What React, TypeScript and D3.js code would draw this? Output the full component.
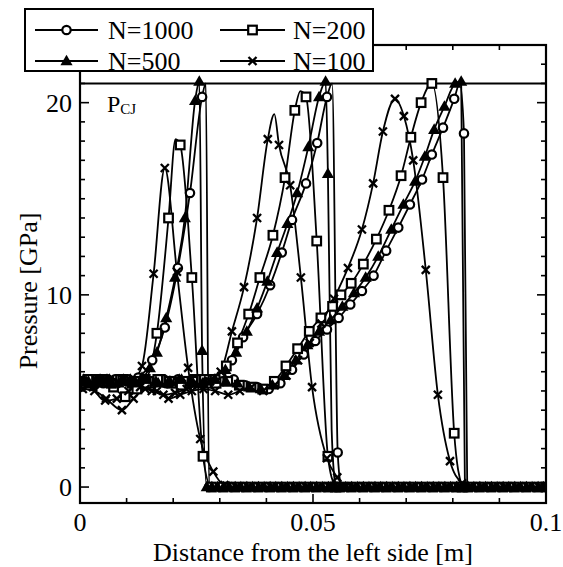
import React, { useEffect, useRef } from 'react';
import * as d3 from 'd3';

type Pt = [number, number, number?]; // [x (m), pressure (GPa), 0 = no marker]

// N=1000 (open circles)
const n1000t1: Pt[] = [
  [0.0000, 5.5], [0.0025, 5.6], [0.0050, 5.4], [0.0075, 5.6], [0.0100, 5.5], [0.0125, 5.7],
  [0.0155, 6.6], [0.0182, 8.3], [0.0210, 11.4], [0.0236, 15.3], [0.0262, 20.3], [0.0270, 21.0, 0],
  [0.0277, 0.0],
];
const n1000t2: Pt[] = [
  [0.0010, 5.5], [0.0035, 5.4], [0.0060, 5.6], [0.0085, 5.5], [0.0110, 5.4], [0.0135, 5.6],
  [0.0160, 5.5], [0.0185, 5.4], [0.0210, 5.6], [0.0235, 5.5], [0.0260, 5.4], [0.0280, 5.5],
  [0.0303, 5.8], [0.0326, 6.6], [0.0350, 7.8], [0.0380, 9.0], [0.0408, 10.5], [0.0433, 12.2],
  [0.0455, 13.9], [0.0485, 15.8], [0.0509, 17.9], [0.0530, 20.3], [0.0541, 21.0, 0], [0.0553, 1.8],
  [0.0560, 0.0],
];
const n1000t3: Pt[] = [
  [0.0005, 5.4], [0.0030, 5.6], [0.0055, 5.5], [0.0080, 5.4], [0.0105, 5.6], [0.0130, 5.5],
  [0.0155, 5.4], [0.0180, 5.6], [0.0205, 5.5], [0.0230, 5.4], [0.0255, 5.5], [0.0280, 5.6],
  [0.0305, 5.5], [0.0330, 5.6], [0.0355, 5.3], [0.0380, 5.2], [0.0405, 5.1], [0.0430, 5.4],
  [0.0455, 6.1], [0.0480, 6.9], [0.0505, 7.6], [0.0530, 8.2], [0.0555, 8.8], [0.0580, 9.5],
  [0.0605, 10.2], [0.0630, 11.0], [0.0657, 12.3], [0.0683, 13.5], [0.0708, 14.7], [0.0734, 16.0],
  [0.0755, 17.3], [0.0779, 18.7], [0.0803, 20.2], [0.0815, 21.0, 0], [0.0824, 18.4], [0.0831, 0.0],
];
const tail1000 = [
  0.0300, 0.0325, 0.0350, 0.0375, 0.0400, 0.0425, 0.0450, 0.0475, 0.0500, 0.0525, 0.0550, 0.0575,
  0.0600, 0.0625, 0.0650, 0.0675, 0.0700, 0.0725, 0.0750, 0.0775, 0.0800, 0.0825, 0.0850, 0.0875,
  0.0900, 0.0925, 0.0950, 0.0975, 0.1000,
];

// N=500 (filled triangles)
const n500t1: Pt[] = [
  [0.0008, 5.6], [0.0033, 5.5], [0.0058, 5.6], [0.0083, 5.4], [0.0108, 5.6], [0.0133, 5.7],
  [0.0150, 6.2], [0.0165, 7.0], [0.0185, 8.8], [0.0204, 10.9], [0.0225, 14.0], [0.0247, 20.1],
  [0.0256, 21.1], [0.0262, 7.1], [0.0272, 0.0],
];
const n500t2: Pt[] = [
  [0.0018, 5.5], [0.0043, 5.6], [0.0068, 5.4], [0.0093, 5.6], [0.0118, 5.5], [0.0143, 5.6],
  [0.0168, 5.4], [0.0193, 5.5], [0.0218, 5.6], [0.0243, 5.4], [0.0268, 5.5], [0.0290, 5.6],
  [0.0312, 6.1], [0.0335, 7.0], [0.0358, 8.1], [0.0380, 9.3], [0.0402, 10.7], [0.0423, 12.2],
  [0.0445, 13.7], [0.0466, 15.3], [0.0490, 17.7], [0.0513, 20.3], [0.0527, 21.1], [0.0532, 16.3],
  [0.0540, 3.0, 0], [0.0548, 0.0],
];
const n500t3: Pt[] = [
  [0.0013, 5.5], [0.0038, 5.4], [0.0063, 5.6], [0.0088, 5.5], [0.0113, 5.4], [0.0138, 5.6],
  [0.0163, 5.5], [0.0188, 5.4], [0.0213, 5.6], [0.0238, 5.5], [0.0263, 5.4], [0.0288, 5.6],
  [0.0313, 5.5], [0.0338, 5.4], [0.0363, 5.2], [0.0388, 5.1], [0.0413, 5.3], [0.0438, 5.8],
  [0.0463, 6.6], [0.0488, 7.4], [0.0513, 8.1], [0.0538, 8.7], [0.0563, 9.4], [0.0588, 10.1],
  [0.0613, 10.9], [0.0640, 12.0], [0.0668, 13.4], [0.0694, 14.7], [0.0719, 15.9], [0.0740, 17.2],
  [0.0760, 18.6], [0.0782, 19.8], [0.0805, 21.0], [0.0818, 21.1], [0.0826, 0.0],
];
const tail500 = [
  0.0283, 0.0295, 0.0308, 0.0320, 0.0333, 0.0345, 0.0358, 0.0370, 0.0383, 0.0395, 0.0408, 0.0420,
  0.0433, 0.0445, 0.0458, 0.0470, 0.0483, 0.0495, 0.0508, 0.0520, 0.0533, 0.0545, 0.0558, 0.0570,
  0.0583, 0.0595, 0.0608, 0.0620, 0.0633, 0.0645, 0.0658, 0.0670, 0.0683, 0.0695, 0.0708, 0.0720,
  0.0733, 0.0745, 0.0758, 0.0770, 0.0783, 0.0795, 0.0808, 0.0820, 0.0833, 0.0845, 0.0858, 0.0870,
  0.0883, 0.0895, 0.0908, 0.0920, 0.0933, 0.0945, 0.0958, 0.0970, 0.0983, 0.0995,
];

// N=200 (open squares)
const n200t1: Pt[] = [
  [0.0012, 5.5], [0.0037, 5.6], [0.0062, 5.5], [0.0087, 5.6], [0.0112, 5.4], [0.0140, 5.6],
  [0.0165, 8.0], [0.0190, 14.0], [0.0205, 18.1, 0], [0.0215, 17.8], [0.0240, 10.9], [0.0264, 1.6],
  [0.0282, 0.0],
];
const n200t2: Pt[] = [
  [0.0022, 5.4], [0.0047, 5.6], [0.0072, 5.2], [0.0097, 4.7], [0.0122, 5.1], [0.0147, 5.5],
  [0.0172, 5.6], [0.0197, 5.4], [0.0222, 5.5], [0.0247, 5.6], [0.0272, 5.4], [0.0290, 5.6],
  [0.0314, 6.3], [0.0338, 7.5], [0.0362, 9.0], [0.0386, 10.9], [0.0414, 13.1], [0.0440, 16.1],
  [0.0461, 19.6], [0.0473, 20.6, 0], [0.0485, 20.3], [0.0508, 12.8], [0.0532, 1.6], [0.0548, 0.0],
];
const n200t3: Pt[] = [
  [0.0017, 5.6], [0.0042, 5.5], [0.0067, 5.4], [0.0092, 5.6], [0.0117, 5.5], [0.0142, 5.4],
  [0.0167, 5.6], [0.0192, 5.5], [0.0217, 5.3], [0.0242, 5.5], [0.0267, 5.6], [0.0292, 5.4],
  [0.0317, 5.5], [0.0342, 5.3], [0.0367, 5.2], [0.0392, 5.1], [0.0417, 5.5], [0.0442, 6.3],
  [0.0467, 7.2], [0.0492, 8.1], [0.0517, 8.8], [0.0542, 9.4], [0.0560, 10.0], [0.0582, 10.6],
  [0.0608, 11.6], [0.0636, 12.9], [0.0663, 14.4], [0.0689, 16.2], [0.0710, 18.2], [0.0732, 20.0],
  [0.0755, 21.0], [0.0779, 16.1], [0.0803, 2.8], [0.0820, 0.0],
];
const tail200 = [
  0.0307, 0.0332, 0.0357, 0.0382, 0.0407, 0.0432, 0.0457, 0.0482, 0.0507, 0.0532, 0.0557, 0.0582,
  0.0607, 0.0632, 0.0657, 0.0682, 0.0707, 0.0732, 0.0757, 0.0782, 0.0807, 0.0832, 0.0857, 0.0882,
  0.0907, 0.0932, 0.0957, 0.0982, 0.1000,
];

// N=100 (crosses)
const n100t1: Pt[] = [
  [0.0018, 5.3], [0.0043, 5.5], [0.0068, 5.4], [0.0093, 5.6], [0.0110, 5.5], [0.0133, 6.3],
  [0.0158, 11.1], [0.0182, 16.6], [0.0208, 11.2], [0.0232, 6.2], [0.0258, 2.5], [0.0286, 0.8],
  [0.0310, 0.1],
];
const n100t2: Pt[] = [
  [0.0028, 5.2], [0.0054, 4.5], [0.0079, 4.6], [0.0104, 5.0], [0.0129, 5.2], [0.0154, 5.0],
  [0.0179, 4.8], [0.0204, 4.9], [0.0229, 5.1], [0.0254, 5.3], [0.0279, 5.5], [0.0302, 6.0],
  [0.0326, 8.1], [0.0352, 10.4], [0.0380, 14.0], [0.0403, 18.1], [0.0417, 19.4, 0], [0.0427, 17.8],
  [0.0451, 15.7], [0.0474, 10.9], [0.0498, 5.2], [0.0530, 1.5], [0.0552, 0.5], [0.0570, 0.0],
];
const n100t3: Pt[] = [
  [0.0006, 5.1], [0.0031, 5.0], [0.0056, 4.6], [0.0090, 4.0], [0.0115, 4.6], [0.0140, 5.1],
  [0.0165, 5.0], [0.0190, 4.6], [0.0215, 4.8], [0.0240, 5.0], [0.0265, 5.1], [0.0290, 5.0],
  [0.0318, 4.8], [0.0343, 5.0], [0.0368, 5.2], [0.0393, 5.0], [0.0418, 5.3], [0.0443, 5.8],
  [0.0468, 6.6], [0.0493, 7.5], [0.0518, 8.5], [0.0545, 9.8], [0.0575, 11.4], [0.0605, 13.4],
  [0.0629, 15.8], [0.0650, 18.5], [0.0676, 20.2], [0.0695, 19.3], [0.0715, 17.0], [0.0742, 11.3],
  [0.0768, 4.8], [0.0794, 1.35], [0.0820, 0.2], [0.0835, 0.0],
];
const tail100 = [
  0.0335, 0.0360, 0.0385, 0.0410, 0.0435, 0.0460, 0.0485, 0.0510, 0.0535, 0.0560, 0.0585, 0.0610,
  0.0635, 0.0660, 0.0685, 0.0710, 0.0735, 0.0760, 0.0785, 0.0810, 0.0835, 0.0860, 0.0885, 0.0910,
  0.0935, 0.0960, 0.0985, 0.1000,
];

const seriesNames = ['N=1000', 'N=200', 'N=500', 'N=100'];
const seriesMarkers = ['circle', 'square', 'triangle', 'cross'];

const xMajor = [0, 0.05, 0.1];
const xLabels = ['0', '0.05', '0.1'];
const xMinor = [0.01, 0.02, 0.03, 0.04, 0.06, 0.07, 0.08, 0.09];
const yMajor = [0, 10, 20];
const yLabels = ['0', '10', '20'];
const yMinor = [1, 2, 3, 4, 5, 6, 7, 8, 9, 11, 12, 13, 14, 15, 16, 17, 18, 19, 21, 22];
const pCJ = 21;

const FONT = 'Liberation Serif';

function drawMarker(g: any, kind: string, cx: number, cy: number) {
  if (kind === 'circle') {
    g.append('circle').attr('cx', cx).attr('cy', cy).attr('r', 4.2)
      .attr('fill', '#fff').attr('stroke', '#000').attr('stroke-width', 2.2);
  } else if (kind === 'square') {
    g.append('rect').attr('x', cx - 4.3).attr('y', cy - 4.3).attr('width', 8.6).attr('height', 8.6)
      .attr('fill', '#fff').attr('stroke', '#000').attr('stroke-width', 2.2);
  } else if (kind === 'triangle') {
    g.append('path').attr('d', d3.symbol(d3.symbolTriangle, 64)())
      .attr('transform', `translate(${cx},${cy + 0.8})`).attr('fill', '#000');
  } else {
    g.append('path').attr('d', `M${cx - 4},${cy - 4}L${cx + 4},${cy + 4}M${cx - 4},${cy + 4}L${cx + 4},${cy - 4}`)
      .attr('stroke', '#000').attr('stroke-width', 2.3).attr('fill', 'none');
  }
}

function addText(g: any, x: number, y: number, s: string, anchor = 'start', size = 26) {
  return g.append('text').attr('x', x).attr('y', y).attr('text-anchor', anchor)
    .style('font-family', FONT).style('font-size', `${size}px`).attr('fill', '#000').text(s);
}

export default function App() {
  const ref = useRef<SVGSVGElement>(null);

  useEffect(() => {
    const svg = d3.select(ref.current);
    svg.selectAll('*').remove();

    const x = d3.scaleLinear().domain([0, 0.1]).range([80, 546]);
    const y = d3.scaleLinear().domain([-0.83, 23]).range([503, 45]);
    const [x0, x1] = x.range();
    const [yb, yt] = y.range();

    svg.append('defs').append('clipPath').attr('id', 'plotclip')
      .append('rect').attr('x', x0).attr('y', yt).attr('width', x1 - x0).attr('height', yb - yt);

    const plot = svg.append('g').attr('clip-path', 'url(#plotclip)');

    const withTail = (pts: Pt[], tail: number[]): Pt[] => pts.concat(tail.map((t) => [t, 0] as Pt));
    const series: Pt[][][] = [
      [withTail(n1000t1, tail1000), n1000t2, n1000t3],
      [withTail(n200t1, tail200), n200t2, n200t3],
      [withTail(n500t1, tail500), n500t2, n500t3],
      [withTail(n100t1, tail100), n100t2, n100t3],
    ];

    const line = d3.line<Pt>().x((d) => x(d[0])).y((d) => y(d[1])).curve(d3.curveMonotoneX);

    // P_CJ level
    plot.append('line').attr('x1', x0).attr('x2', x1).attr('y1', y(pCJ)).attr('y2', y(pCJ))
      .attr('stroke', '#000').attr('stroke-width', 2);

    series.forEach((profiles) => {
      profiles.forEach((pts) => {
        plot.append('path').attr('d', line(pts)).attr('fill', 'none')
          .attr('stroke', '#000').attr('stroke-width', 1.8);
      });
    });
    series.forEach((profiles, si) => {
      profiles.forEach((pts) => {
        pts.filter((d) => d[2] !== 0).forEach((d) => drawMarker(plot, seriesMarkers[si], x(d[0]), y(d[1])));
      });
    });

    // ticks (inward on all four sides)
    const axes = svg.append('g').attr('stroke', '#000').attr('stroke-width', 1.6);
    const xt = [...xMajor.map((v) => [v, 9]), ...xMinor.map((v) => [v, 5])];
    xt.forEach(([v, len]) => {
      axes.append('line').attr('x1', x(v)).attr('x2', x(v)).attr('y1', yb).attr('y2', yb - len);
      axes.append('line').attr('x1', x(v)).attr('x2', x(v)).attr('y1', yt).attr('y2', yt + len);
    });
    const yt2 = [...yMajor.map((v) => [v, 9]), ...yMinor.map((v) => [v, 5])];
    yt2.forEach(([v, len]) => {
      axes.append('line').attr('x1', x0).attr('x2', x0 + len).attr('y1', y(v)).attr('y2', y(v));
      axes.append('line').attr('x1', x1).attr('x2', x1 - len).attr('y1', y(v)).attr('y2', y(v));
    });

    svg.append('rect').attr('x', x0).attr('y', yt).attr('width', x1 - x0).attr('height', yb - yt)
      .attr('fill', 'none').attr('stroke', '#000').attr('stroke-width', 2.2);

    // tick labels and titles
    const txt = svg.append('g');
    xMajor.forEach((v, i) => addText(txt, x(v), 531, xLabels[i], 'middle'));
    yMajor.forEach((v, i) => addText(txt, 72, y(v) + 9, yLabels[i], 'end'));
    addText(txt, (x0 + x1) / 2, 561, 'Distance from the left side [m]', 'middle');
    addText(txt, 0, 0, 'Pressure [GPa]', 'middle').attr('transform', `translate(37,${y(10.2)}) rotate(-90)`);

    // P_CJ label
    const pl = addText(txt, 107, 112, '', 'start', 24);
    pl.append('tspan').text('P');
    pl.append('tspan').attr('dy', 2).style('font-size', '15px').text('CJ');

    // legend
    const lg = svg.append('g');
    lg.append('rect').attr('x', 25).attr('y', 9).attr('width', 348).attr('height', 62)
      .attr('fill', '#fff').attr('stroke', '#000').attr('stroke-width', 2);
    const cols = [[35, 98, 108], [220, 285, 293]];
    const rows = [30, 61];
    seriesNames.forEach((name, i) => {
      const [lx0, lx1, tx] = cols[i % 2];
      const ly = rows[Math.floor(i / 2)];
      lg.append('line').attr('x1', lx0).attr('x2', lx1).attr('y1', ly).attr('y2', ly)
        .attr('stroke', '#000').attr('stroke-width', 1.8);
      drawMarker(lg, seriesMarkers[i], (lx0 + lx1) / 2, ly);
      addText(lg, tx, ly + 9, name);
    });
  }, []);

  return (
    <svg ref={ref} width={563} height={567} style={{ position: 'absolute', left: 0, top: 0, background: '#fff' }} />
  );
}
